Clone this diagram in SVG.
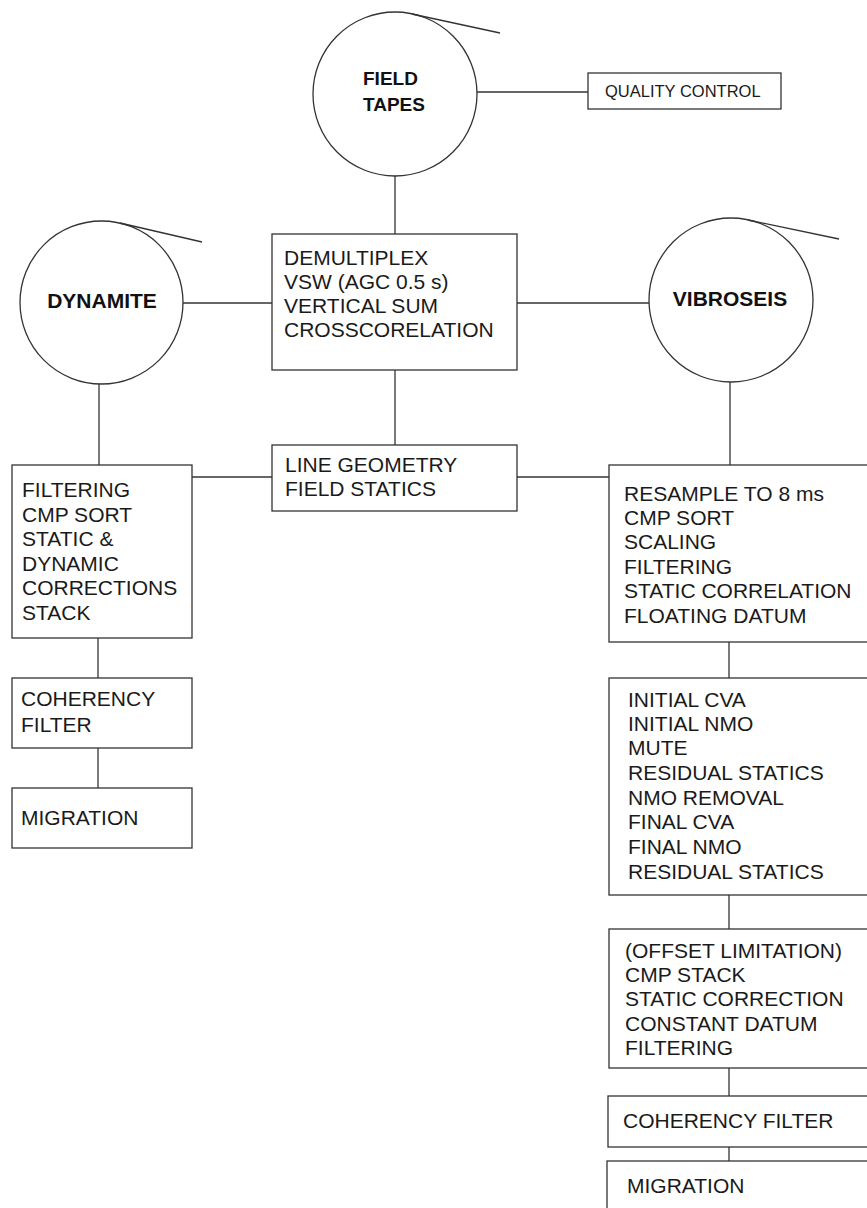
<svg xmlns="http://www.w3.org/2000/svg" width="867" height="1208" viewBox="0 0 867 1208">
<style>
.bg{fill:#ffffff}
.box{fill:none;stroke:#333;stroke-width:1.3}
.circ{fill:none;stroke:#333;stroke-width:1.3}
.ln{stroke:#333;stroke-width:1.3;fill:none}
.t{font-family:"Liberation Sans",Arial,sans-serif;font-size:21px;fill:#1a1a1a}
.ts{font-family:"Liberation Sans",Arial,sans-serif;font-size:16.5px;fill:#1a1a1a}
.tb{font-family:"Liberation Sans",Arial,sans-serif;font-size:21px;font-weight:bold;fill:#111}
</style>
<rect class="bg" x="0" y="0" width="867" height="1208"/>
<g id="connectors">
<line class="ln" x1="395" y1="176" x2="395" y2="234"/>
<line class="ln" x1="477" y1="92" x2="588" y2="92"/>
<line class="ln" x1="183" y1="303" x2="272" y2="303"/>
<line class="ln" x1="517" y1="303" x2="649" y2="303"/>
<line class="ln" x1="395" y1="370" x2="395" y2="445"/>
<line class="ln" x1="99" y1="384" x2="99" y2="465"/>
<line class="ln" x1="192" y1="477" x2="272" y2="477"/>
<line class="ln" x1="517" y1="477" x2="609" y2="477"/>
<line class="ln" x1="730" y1="382" x2="730" y2="465"/>
<line class="ln" x1="98" y1="638" x2="98" y2="678"/>
<line class="ln" x1="98" y1="748" x2="98" y2="788"/>
<line class="ln" x1="729" y1="642" x2="729" y2="678"/>
<line class="ln" x1="729" y1="895" x2="729" y2="929"/>
<line class="ln" x1="729" y1="1068" x2="729" y2="1096"/>
<line class="ln" x1="729" y1="1147" x2="729" y2="1161"/>
</g>
<g id="field-tapes">
<circle class="circ" cx="395" cy="94" r="82"/>
<line class="ln" x1="412" y1="14" x2="500" y2="33"/>
<text class="tb" style="font-size:19px" x="363" y="85">FIELD</text>
<text class="tb" style="font-size:19px" x="363" y="111">TAPES</text>
</g>
<g id="quality-control">
<rect class="box" x="588" y="73" width="193" height="36"/>
<text class="ts" x="605" y="97">QUALITY CONTROL</text>
</g>
<g id="dynamite">
<circle class="circ" cx="101.5" cy="302.5" r="81.5"/>
<line class="ln" x1="120" y1="223" x2="202" y2="242"/>
<text class="tb" x="102" y="308" text-anchor="middle">DYNAMITE</text>
</g>
<g id="vibroseis">
<circle class="circ" cx="731" cy="300" r="82"/>
<line class="ln" x1="748" y1="220" x2="839" y2="239"/>
<text class="tb" x="730" y="306" text-anchor="middle">VIBROSEIS</text>
</g>
<g id="demultiplex">
<rect class="box" x="272" y="234" width="245" height="136"/>
<text class="t" x="284" y="265">DEMULTIPLEX</text>
<text class="t" x="284" y="289">VSW (AGC 0.5 s)</text>
<text class="t" x="284" y="313">VERTICAL SUM</text>
<text class="t" x="284" y="337">CROSSCORELATION</text>
</g>
<g id="line-geometry">
<rect class="box" x="272" y="445" width="245" height="66"/>
<text class="t" x="285" y="472">LINE GEOMETRY</text>
<text class="t" x="285" y="496">FIELD STATICS</text>
</g>
<g id="dyn-processing">
<rect class="box" x="12" y="465" width="180" height="173"/>
<text class="t" x="22" y="497">FILTERING</text>
<text class="t" x="22" y="522">CMP SORT</text>
<text class="t" x="22" y="546">STATIC &amp;</text>
<text class="t" x="22" y="571">DYNAMIC</text>
<text class="t" x="22" y="595">CORRECTIONS</text>
<text class="t" x="22" y="620">STACK</text>
</g>
<g id="dyn-coherency">
<rect class="box" x="12" y="678" width="180" height="70"/>
<text class="t" x="21" y="706">COHERENCY</text>
<text class="t" x="21" y="732">FILTER</text>
</g>
<g id="dyn-migration">
<rect class="box" x="12" y="788" width="180" height="60"/>
<text class="t" x="21" y="825">MIGRATION</text>
</g>
<g id="vib-resample">
<rect class="box" x="609" y="465" width="280" height="177"/>
<text class="t" x="624" y="501">RESAMPLE TO 8 ms</text>
<text class="t" x="624" y="525">CMP SORT</text>
<text class="t" x="624" y="549">SCALING</text>
<text class="t" x="624" y="574">FILTERING</text>
<text class="t" x="624" y="598">STATIC CORRELATION</text>
<text class="t" x="624" y="623">FLOATING DATUM</text>
</g>
<g id="vib-velocity">
<rect class="box" x="609" y="678" width="280" height="217"/>
<text class="t" x="628" y="707">INITIAL CVA</text>
<text class="t" x="628" y="731">INITIAL NMO</text>
<text class="t" x="628" y="755">MUTE</text>
<text class="t" x="628" y="780">RESIDUAL STATICS</text>
<text class="t" x="628" y="805">NMO REMOVAL</text>
<text class="t" x="628" y="829">FINAL CVA</text>
<text class="t" x="628" y="854">FINAL NMO</text>
<text class="t" x="628" y="879">RESIDUAL STATICS</text>
</g>
<g id="vib-stack">
<rect class="box" x="609" y="929" width="280" height="139"/>
<text class="t" x="625" y="958">(OFFSET LIMITATION)</text>
<text class="t" x="625" y="982">CMP STACK</text>
<text class="t" x="625" y="1006">STATIC CORRECTION</text>
<text class="t" x="625" y="1031">CONSTANT DATUM</text>
<text class="t" x="625" y="1055">FILTERING</text>
</g>
<g id="vib-coherency">
<rect class="box" x="608" y="1096" width="280" height="51"/>
<text class="t" x="623" y="1128">COHERENCY FILTER</text>
</g>
<g id="vib-migration">
<rect class="box" x="607" y="1161" width="280" height="80"/>
<text class="t" x="627" y="1193">MIGRATION</text>
</g>
</svg>
